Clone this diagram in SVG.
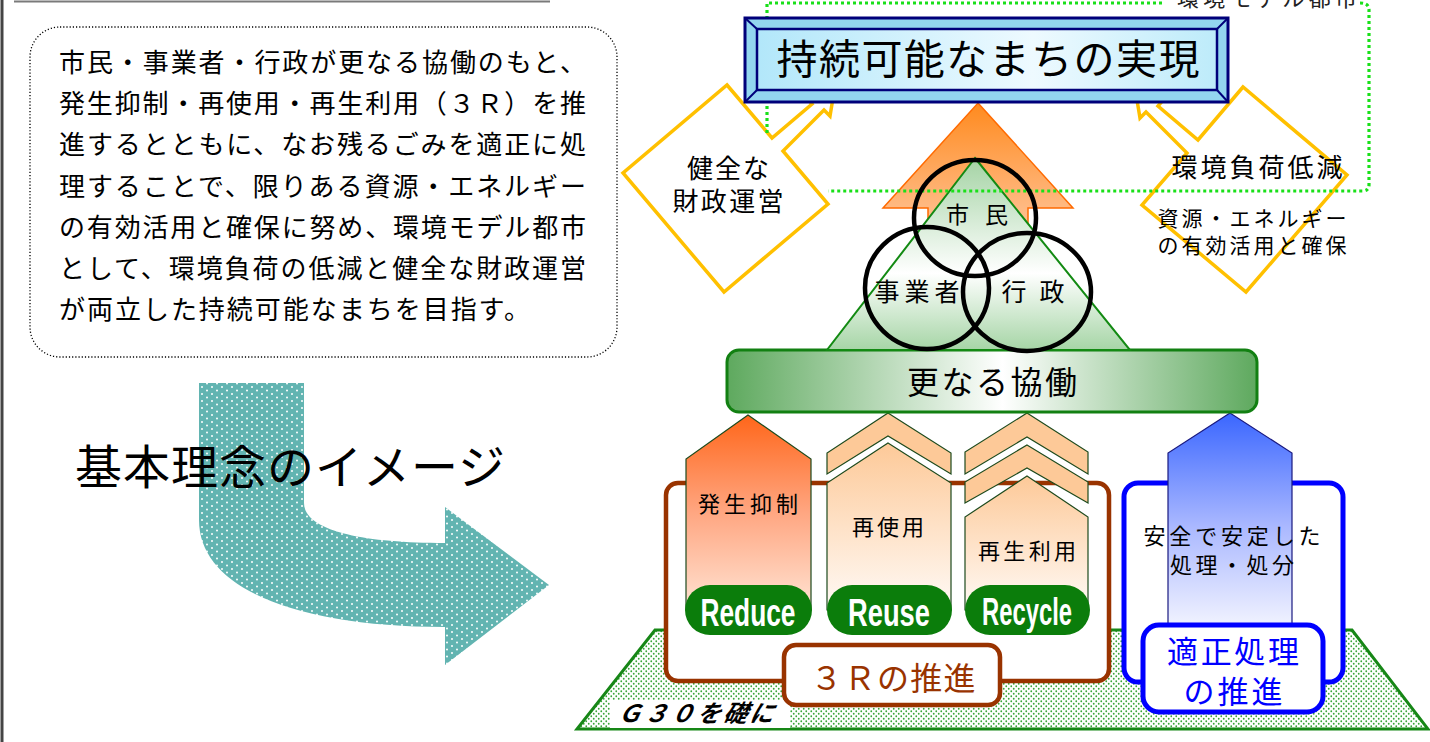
<svg xmlns="http://www.w3.org/2000/svg" width="1430" height="742" viewBox="0 0 1430 742">
  <style>
    .jp { font-family: "Noto Sans CJK JP", "Noto Sans CJK SC", sans-serif; fill: #000; }
    .mid { text-anchor: middle; }
    .en { font-family: "Liberation Sans", Arial, sans-serif; font-weight: bold; fill: #fff; text-anchor: middle; }
    .diamond { fill: #fff; stroke: #ffc000; stroke-width: 3.5; stroke-linejoin: miter; }
    .pill { fill: #0b7d0b; }
    .arrowOut { stroke: #1d4a1d; stroke-width: 1.2; }
    .chev { fill: #fdc998; stroke: #1d4a1d; stroke-width: 1.2; }
    .circ { fill: none; stroke: #000; stroke-width: 4.5; }
    .dotline { fill: none; stroke: #19e019; stroke-width: 3.2; stroke-dasharray: 3 3; }
    .navy { stroke: #00007a; }
  </style>
  <defs>
    <pattern id="tealDots" width="10" height="7" patternUnits="userSpaceOnUse">
      <rect width="10" height="7" fill="#62b4b1"/>
      <circle cx="2" cy="2" r="1" fill="#fff"/>
      <circle cx="7" cy="5.5" r="1" fill="#fff"/>
    </pattern>
    <pattern id="greenDots" width="5" height="5" patternUnits="userSpaceOnUse">
      <rect width="5" height="5" fill="#fff"/>
      <circle cx="1.25" cy="1.25" r="0.9" fill="#3aa53a"/>
      <circle cx="3.75" cy="3.75" r="0.9" fill="#3aa53a"/>
    </pattern>
    <linearGradient id="titleFace" x1="0" y1="0" x2="1" y2="0">
      <stop offset="0" stop-color="#b2e7fa"/>
      <stop offset="0.6" stop-color="#eefaff"/>
      <stop offset="1" stop-color="#bdebfa"/>
    </linearGradient>
    <linearGradient id="orangeUp" x1="0" y1="0" x2="0" y2="1">
      <stop offset="0" stop-color="#ff8a1e"/>
      <stop offset="1" stop-color="#ffd2b6"/>
    </linearGradient>
    <linearGradient id="greenTri" x1="0" y1="0" x2="0" y2="1">
      <stop offset="0" stop-color="#a4d3a4"/>
      <stop offset="0.6" stop-color="#ffffff"/>
      <stop offset="1" stop-color="#a6d5a6"/>
    </linearGradient>
    <linearGradient id="barGrad" x1="0" y1="0" x2="1" y2="0">
      <stop offset="0" stop-color="#5ea95e"/>
      <stop offset="0.52" stop-color="#ffffff"/>
      <stop offset="1" stop-color="#5ea95e"/>
    </linearGradient>
    <linearGradient id="reduceGrad" x1="0" y1="0" x2="0" y2="1">
      <stop offset="0" stop-color="#ff661a"/>
      <stop offset="0.5" stop-color="#ffa681"/>
      <stop offset="1" stop-color="#ffe4d4"/>
    </linearGradient>
    <linearGradient id="peachGrad" x1="0" y1="0" x2="0" y2="1">
      <stop offset="0" stop-color="#fdc998"/>
      <stop offset="1" stop-color="#fffaf6"/>
    </linearGradient>
    <linearGradient id="blueGrad" x1="0" y1="0" x2="0" y2="1">
      <stop offset="0" stop-color="#3a66ff"/>
      <stop offset="0.5" stop-color="#aab8ff"/>
      <stop offset="1" stop-color="#fbfbff"/>
    </linearGradient>
  </defs>

  <rect width="1430" height="742" fill="#fff"/>

  <!-- page frame -->
  <line x1="2" y1="0" x2="2" y2="742" stroke="#444" stroke-width="3"/>
  <line x1="14" y1="1.5" x2="550" y2="1.5" stroke="#7a7a7a" stroke-width="2"/>

  <!-- statement of the basic principle -->
  <g id="principle-text">
    <rect x="30" y="27" width="587" height="330" rx="30" fill="none" stroke="#000" stroke-width="1.3" stroke-dasharray="1.2 2"/>
    <g class="jp" font-size="26">
      <text x="59" y="72" textLength="527">市民・事業者・行政が更なる協働のもと、</text>
      <text x="59" y="113" textLength="527">発生抑制・再使用・再生利用（３Ｒ）を推</text>
      <text x="59" y="154" textLength="527">進するとともに、なお残るごみを適正に処</text>
      <text x="59" y="196" textLength="527">理することで、限りある資源・エネルギー</text>
      <text x="59" y="237" textLength="527">の有効活用と確保に努め、環境モデル都市</text>
      <text x="59" y="278" textLength="527">として、環境負荷の低減と健全な財政運営</text>
      <text x="59" y="319" textLength="471">が両立した持続可能なまちを目指す。</text>
    </g>
  </g>

  <!-- bent arrow with heading -->
  <g id="image-arrow">
    <path d="M199,383 H304 V503 C304,530 360,543 445,543 V507 L549,585 L445,665 V627 C300,627 199,590 199,520 Z" fill="url(#tealDots)"/>
    <text class="jp" x="75" y="484" font-size="47" textLength="430">基本理念のイメージ</text>
  </g>

  <!-- ground: G30 foundation -->
  <g id="ground">
    <polygon points="655,630 1352,630 1428,729 577,729" fill="url(#greenDots)" stroke="#178717" stroke-width="3" stroke-linejoin="miter"/>
    <rect x="610" y="700" width="180" height="28" fill="#fff"/>
    <text class="jp mid" x="695" y="722" font-size="24" font-weight="bold" font-style="italic" textLength="156" transform="skewX(-12) translate(153,0)">Ｇ３０を礎に</text>
  </g>

  <!-- 3R promotion frame -->
  <g id="promote-3r">
    <rect x="666" y="483" width="443" height="198" rx="12" fill="#fff" stroke="#993300" stroke-width="4.5"/>
  </g>

  <!-- proper disposal frame -->
  <g id="proper-disposal-frame">
    <rect x="1124" y="483" width="219" height="199" rx="14" fill="#fff" stroke="#0000ff" stroke-width="5"/>
  </g>

  <!-- Reduce -->
  <g id="reduce">
    <polygon class="arrowOut" points="748,415 811,459 811,610 686,610 686,459" fill="url(#reduceGrad)"/>
    <text class="jp mid" x="748" y="512" font-size="22" textLength="100">発生抑制</text>
    <rect class="pill" x="685" y="585" width="127" height="50" rx="25"/>
    <text class="en" x="748" y="626" font-size="38" textLength="95" lengthAdjust="spacingAndGlyphs">Reduce</text>
  </g>

  <!-- Reuse -->
  <g id="reuse">
    <polygon class="chev" points="888,413 951,453 951,474 888,436 827,474 827,453"/>
    <polygon class="arrowOut" points="888,443 951,483 951,610 827,610 827,483" fill="url(#peachGrad)"/>
    <text class="jp mid" x="888" y="535" font-size="22" textLength="72">再使用</text>
    <rect class="pill" x="827" y="585" width="125" height="50" rx="25"/>
    <text class="en" x="889" y="626" font-size="38" textLength="82" lengthAdjust="spacingAndGlyphs">Reuse</text>
  </g>

  <!-- Recycle -->
  <g id="recycle">
    <polygon class="chev" points="1027,413 1088,452 1088,474 1027,437 965,474 965,452"/>
    <polygon class="chev" points="1027,445 1088,482 1088,503 1027,468 965,503 965,482"/>
    <polygon class="arrowOut" points="1027,476 1088,517 1088,610 965,610 965,517" fill="url(#peachGrad)"/>
    <text class="jp mid" x="1027" y="559" font-size="22" textLength="98">再生利用</text>
    <rect class="pill" x="965" y="585" width="125" height="50" rx="25"/>
    <text class="en" x="1027" y="625" font-size="38" textLength="90" lengthAdjust="spacingAndGlyphs">Recycle</text>
  </g>

  <!-- 3R label -->
  <g id="label-3r">
    <rect x="784" y="645" width="216" height="60" rx="12" fill="#fff" stroke="#993300" stroke-width="4.5"/>
    <text class="jp mid" x="893" y="690" font-size="32" textLength="165" style="fill:#993300">３Ｒの推進</text>
  </g>

  <!-- safe and stable disposal -->
  <g id="safe-disposal">
    <polygon points="1230,413 1292,453 1292,640 1168,640 1168,453" fill="url(#blueGrad)" stroke="#1a1a80" stroke-width="1.2"/>
    <text class="jp mid" x="1232" y="544" font-size="22" textLength="177">安全で安定した</text>
    <text class="jp mid" x="1232" y="573" font-size="22" textLength="124">処理・処分</text>
  </g>

  <!-- proper disposal label -->
  <g id="label-disposal">
    <rect x="1143" y="625" width="180" height="87" rx="16" fill="#fff" stroke="#0000ff" stroke-width="5"/>
    <text class="jp mid" x="1233" y="663" font-size="31" textLength="132" style="fill:#0000ff">適正処理</text>
    <text class="jp mid" x="1233" y="703" font-size="31" textLength="99" style="fill:#0000ff">の推進</text>
  </g>

  <!-- collaboration bar -->
  <g id="collaboration">
    <rect x="727" y="350" width="530" height="62" rx="12" fill="url(#barGrad)" stroke="#128012" stroke-width="3"/>
    <text class="jp mid" x="992" y="394" font-size="32" textLength="170">更なる協働</text>
  </g>

  <!-- upward arrow behind the actors -->
  <g id="upward-arrow">
    <polygon points="978,103 1073,208 1028,208 1028,262 928,262 928,208 883,208" fill="url(#orangeUp)" stroke="#ff6a00" stroke-width="1.5"/>
  </g>

  <!-- actors triangle -->
  <g id="actors-triangle">
    <polygon points="975,158 1130,350 827,350" fill="url(#greenTri)" stroke="#138a13" stroke-width="2"/>
  </g>

  <!-- sound finances -->
  <g id="sound-finance">
    <path class="diamond" d="M727,85 L772,138 L812,104 L806,97 L834,92 L830,116 L824,110 L783,151 L828,204 L724,292 L623,173 Z"/>
    <text class="jp mid" x="728" y="178" font-size="26" textLength="82">健全な</text>
    <text class="jp mid" x="728" y="211" font-size="26" textLength="111">財政運営</text>
  </g>

  <!-- reduced environmental load -->
  <g id="env-load">
    <path class="diamond" d="M1243,87 L1198,140 L1158,106 L1164,99 L1136,94 L1140,118 L1146,112 L1187,153 L1142,205 L1246,292 L1347,175 Z"/>
    <text class="jp mid" x="1257" y="177" font-size="26" textLength="171">環境負荷低減</text>
    <text class="jp mid" x="1252" y="226" font-size="21" textLength="189">資源・エネルギー</text>
    <text class="jp mid" x="1252" y="253" font-size="21" textLength="189">の有効活用と確保</text>
  </g>

  <!-- connectors -->
  <g id="connectors">
    <path class="dotline" d="M767,133 V3 H1163 M1360,3 Q1369,3 1369,10 V185 Q1369,191 1362,191 H828"/>
    <text class="jp mid" x="1267" y="6" font-size="22" textLength="180" style="fill:#222">環境モデル都市</text>
  </g>

  <!-- goal -->
  <g id="goal">
    <rect x="745" y="18" width="483" height="84" fill="#93d6ef" stroke="#00007a" stroke-width="3"/>
    <line class="navy" x1="745" y1="18" x2="757" y2="29" stroke-width="2"/>
    <line class="navy" x1="1228" y1="18" x2="1217" y2="29" stroke-width="2"/>
    <line class="navy" x1="745" y1="102" x2="757" y2="90" stroke-width="2"/>
    <line class="navy" x1="1228" y1="102" x2="1217" y2="90" stroke-width="2"/>
    <rect x="757" y="29" width="460" height="61" fill="url(#titleFace)" stroke="#00007a" stroke-width="2.5"/>
    <text class="jp mid" x="988" y="74" font-size="41" textLength="423">持続可能なまちの実現</text>
  </g>

  <!-- citizens, businesses, government -->
  <g id="citizens">
    <ellipse class="circ" cx="975" cy="218" rx="61" ry="58"/>
    <text class="jp mid" x="977" y="223" font-size="23" textLength="62">市 民</text>
  </g>
  <g id="businesses">
    <ellipse class="circ" cx="927" cy="288" rx="62" ry="61"/>
    <text class="jp mid" x="917" y="301" font-size="25" textLength="85">事業者</text>
  </g>
  <g id="government">
    <ellipse class="circ" cx="1027" cy="292" rx="64" ry="59"/>
    <text class="jp mid" x="1033" y="301" font-size="25" textLength="63">行 政</text>
  </g>
</svg>
